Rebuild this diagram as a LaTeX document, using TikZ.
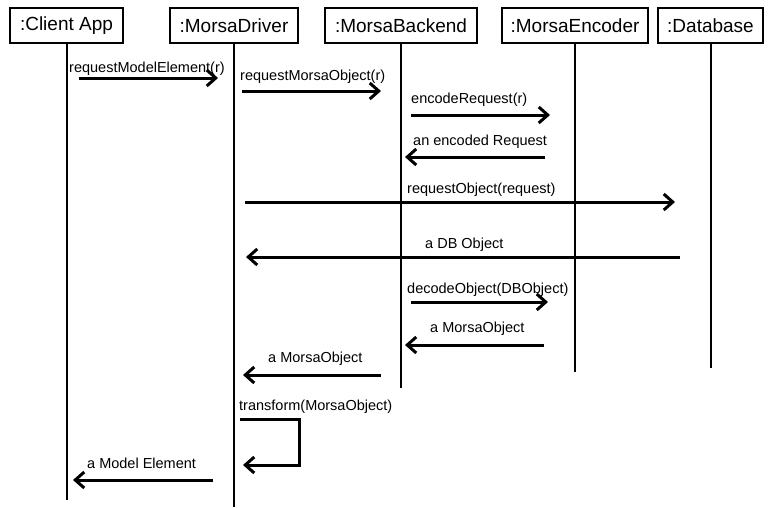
\documentclass[tikz,border=0pt]{standalone}
\usepackage{fontspec}
\setmainfont{Liberation Sans}
\usetikzlibrary{arrows.meta}
\begin{document}
\begin{tikzpicture}[x=1pt,y=-1pt,
  objbox/.style={draw,line width=2.2pt,minimum height=35pt,inner sep=0pt,font=\fontsize{19}{22}\selectfont},
  life/.style={line width=2pt},
  msg/.style={line width=3pt,-{Straight Barb[length=9pt,width=16pt]}},
  msglabel/.style={anchor=base west,inner sep=0pt,font=\fontsize{14.5}{17}\selectfont}]
\useasboundingbox (0,0) rectangle (768,507);
% objects
\node[objbox,minimum width=113pt] (cl) at (66.5,25.5) {:Client App};
\node[objbox,minimum width=128pt] (dr) at (234,25.5) {:MorsaDriver};
\node[objbox,minimum width=152pt] (be) at (401,25.5) {:MorsaBackend};
\node[objbox,minimum width=146pt] (en) at (575,25.5) {:MorsaEncoder};
\node[objbox,minimum width=105pt] (db) at (710.5,25.5) {:Database};
% lifeline ends
\coordinate (clEnd) at (66.5,500);
\coordinate (drEnd) at (234,507);
\coordinate (beEnd) at (401,388);
\coordinate (enEnd) at (575,372);
\coordinate (dbEnd) at (710.5,368);
\draw[life] (cl.south) -- (clEnd);
\draw[life] (dr.south) -- (drEnd);
\draw[life] (be.south) -- (beEnd);
\draw[life] (en.south) -- (enEnd);
\draw[life] (db.south) -- (dbEnd);
% message end points
\coordinate (m1a) at (79,78);   \coordinate (m1b) at (218,78);
\coordinate (m2a) at (242,91);  \coordinate (m2b) at (381,91);
\coordinate (m3a) at (411,115); \coordinate (m3b) at (550,115);
\coordinate (m4a) at (545,157); \coordinate (m4b) at (405,157);
\coordinate (m5a) at (245,202); \coordinate (m5b) at (675,202);
\coordinate (m6a) at (680,257); \coordinate (m6b) at (246,257);
\coordinate (m7a) at (411,302); \coordinate (m7b) at (548,302);
\coordinate (m8a) at (544,345); \coordinate (m8b) at (405,345);
\coordinate (m9a) at (381,375); \coordinate (m9b) at (243,375);
\coordinate (s1) at (240,419);  \coordinate (s2) at (299,465); \coordinate (s3) at (243,465);
\coordinate (m11a) at (213,480); \coordinate (m11b) at (73,480);
% messages
\draw[msg] (m1a) -- (m1b);
\draw[msg] (m2a) -- (m2b);
\draw[msg] (m3a) -- (m3b);
\draw[msg] (m4a) -- (m4b);
\draw[msg] (m5a) -- (m5b);
\draw[msg] (m6a) -- (m6b);
\draw[msg] (m7a) -- (m7b);
\draw[msg] (m8a) -- (m8b);
\draw[msg] (m9a) -- (m9b);
\draw[msg,line join=miter] (s1) -| (s2) -- (s3);
\draw[msg] (m11a) -- (m11b);
% labels
\node[msglabel] (l1) at (69,72) {requestModelElement(r)};
\node[msglabel] (l2) at (240,80) {requestMorsaObject(r)};
\node[msglabel] (l3) at (411,103) {encodeRequest(r)};
\node[msglabel] (l4) at (413,145) {an encoded Request};
\node[msglabel] (l5) at (407,193) {requestObject(request)};
\node[msglabel] (l6) at (425,248) {a DB Object};
\node[msglabel] (l7) at (407,293) {decodeObject(DBObject)};
\node[msglabel] (l8) at (430,332) {a MorsaObject};
\node[msglabel] (l9) at (268,362) {a MorsaObject};
\node[msglabel] (l10) at (239,410) {transform(MorsaObject)};
\node[msglabel] (l11) at (87,468) {a Model Element};
\end{tikzpicture}
\end{document}
